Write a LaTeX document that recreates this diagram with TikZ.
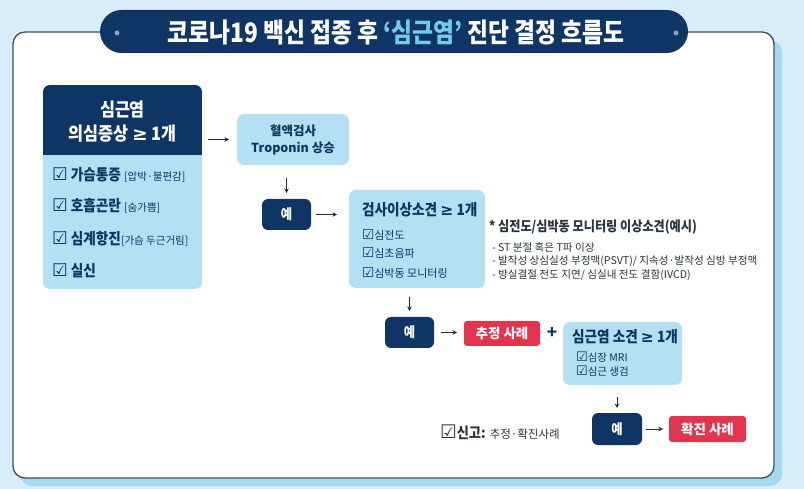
\documentclass[tikz,border=0pt]{standalone}
\usepackage{fontspec}
\setmainfont{Noto Sans CJK KR}
\newfontfamily\symf{DejaVu Sans}
\newfontfamily\titlef{Noto Sans CJK KR}[FakeStretch=0.85]
\newfontfamily\condf{Noto Sans CJK KR}[FakeStretch=0.88]
\usetikzlibrary{arrows.meta}
\definecolor{bgc}{HTML}{D7EDF8}
\definecolor{shadowc}{HTML}{A3D9F3}
\definecolor{panelc}{HTML}{3F4C5C}
\definecolor{navy}{HTML}{0E3563}
\definecolor{lightb}{HTML}{B5E0F4}
\definecolor{redc}{HTML}{E2344F}
\definecolor{accent}{HTML}{74CAEE}
\definecolor{dotc}{HTML}{8FA3B8}
\definecolor{arrowc}{HTML}{2B2B2B}
\definecolor{notec}{HTML}{2A3340}
\newcommand{\chkbx}{\scalebox{1.25}{\symf ☑}}
\newcommand{\gesym}{{\symf ≥}}
\tikzset{
  lbox/.style={fill=lightb, rounded corners=7pt, draw=none},
  nbox/.style={fill=navy, rounded corners=6pt, text=white, font=\condf\bfseries\fontsize{14}{15}\selectfont},
  rbox/.style={fill=redc, rounded corners=3pt, text=white, font=\bfseries\fontsize{13.5}{15}\selectfont},
  arr/.style={-{Stealth[length=4.5pt,width=4.5pt]}, line width=1pt, draw=arrowc},
  itemtxt/.style={anchor=west, text=navy},
  notetxt/.style={anchor=west, text=notec, font=\fontsize{10.6}{12}\selectfont},
}
\begin{document}
\begin{tikzpicture}[x=1pt,y=-1pt, every node/.style={inner sep=0pt, outer sep=0pt}]
% background and frame
\fill[bgc] (0,0) rectangle (804,489);
\fill[shadowc, rounded corners=12pt] (20,40) rectangle (782,486);
\filldraw[fill=white, draw=panelc, line width=1.3pt, rounded corners=12pt] (13,32) rectangle (774,478);
% title pill
\node[fill=navy, rounded corners=21.5pt, minimum width=588, minimum height=43] (title) at (394,31.5) {};
\node[text=white, font=\titlef\bfseries\fontsize{26.8}{30}\selectfont] (titletext) at (396,32)
  {코로나19 백신 접종 후 {\color{accent}‘심근염’} 진단 결정 흐름도};
\fill[dotc] (117,33) circle (2.5);
\fill[dotc] (676,33) circle (2.5);

% left symptom box
\node[lbox, minimum width=159, minimum height=204] (symp) at (122.5,187) {};
\begin{scope}
  \clip[rounded corners=7pt] (43,85) rectangle (202,289);
  \fill[navy] (43,85) rectangle (202,155);
\end{scope}
\node[text=white, align=center, font=\condf\bfseries\fontsize{18.5}{24}\selectfont] (symphead) at (122.5,122)
  {심근염\\의심증상 \gesym\ 1개};
\node[itemtxt, font=\fontsize{14}{15}\selectfont] (s1) at (52,175)
  {\chkbx\ {\condf\bfseries\fontsize{15.5}{16}\selectfont 가슴통증} {\fontsize{10.5}{11}\selectfont [압박·불편감]}};
\node[itemtxt, font=\fontsize{14}{15}\selectfont] (s2) at (52,206)
  {\chkbx\ {\condf\bfseries\fontsize{15.5}{16}\selectfont 호흡곤란} {\fontsize{10.5}{11}\selectfont [숨가쁨]}};
\node[itemtxt, font=\fontsize{14}{15}\selectfont] (s3) at (52,239)
  {\chkbx\ {\condf\bfseries\fontsize{15.5}{16}\selectfont 심계항진}{\fontsize{10.5}{11}\selectfont [가슴 두근거림]}};
\node[itemtxt, font=\fontsize{14}{15}\selectfont] (s4) at (52,271)
  {\chkbx\ {\condf\bfseries\fontsize{15.5}{16}\selectfont 실신}};

% troponin box
\node[lbox, minimum width=112, minimum height=51, text=navy, align=center,
      font=\bfseries\fontsize{12.5}{17}\selectfont] (trop) at (293,139.5)
  {혈액검사\\Troponin 상승};

% yes 1
\node[nbox, minimum width=49, minimum height=31] (yes1) at (286.5,214.5) {예};

% test box
\node[lbox, minimum width=136, minimum height=98] (test) at (417,239) {};
\node[itemtxt, font=\condf\bfseries\fontsize{15.5}{17}\selectfont] (testhead) at (362,210) {검사이상소견 \gesym\ 1개};
\node[itemtxt, font=\fontsize{11}{13}\selectfont] (t1) at (362,235) {\chkbx 심전도};
\node[itemtxt, font=\fontsize{11}{13}\selectfont] (t2) at (362,253) {\chkbx 심초음파};
\node[itemtxt, font=\fontsize{11}{13}\selectfont] (t3) at (362,273) {\chkbx 심박동 모니터링};

% note
\node[anchor=west, text=notec, font=\condf\bfseries\fontsize{13.8}{15}\selectfont] (note) at (489,227)
  {* 심전도/심박동 모니터링 이상소견(예시)};
\node[notetxt] (n1) at (492,247) {- ST 분절 혹은 T파 이상};
\node[notetxt] (n2) at (492,261) {- 발작성 상심실성 부정맥(PSVT)/ 지속성·발작성 심방 부정맥};
\node[notetxt] (n3) at (492,275) {- 방실결절 전도 지연/ 심실내 전도 결함(IVCD)};

% yes 2, estimated case, plus, conf box
\node[nbox, minimum width=49, minimum height=31] (yes2) at (409.5,332.5) {예};
\node[rbox, minimum width=76, minimum height=25] (est) at (502,333.5) {추정 사례};
\node[text=navy, font=\bfseries\fontsize{17}{18}\selectfont] (plus) at (552,333) {+};
\node[lbox, minimum width=119, minimum height=63] (conf) at (622.5,353.5) {};
\node[itemtxt, font=\condf\bfseries\fontsize{15.5}{17}\selectfont] (confhead) at (572,337) {심근염 소견 \gesym\ 1개};
\node[itemtxt, font=\fontsize{10.5}{12}\selectfont] (c1) at (576,357) {\chkbx 심장 MRI};
\node[itemtxt, font=\fontsize{10.5}{12}\selectfont] (c2) at (576,371) {\chkbx 심근 생검};

% yes 3, confirmed case, report
\node[nbox, minimum width=50, minimum height=32] (yes3) at (617,429) {예};
\node[rbox, minimum width=77, minimum height=26] (fin) at (707.5,429) {확진 사례};
\node[anchor=west, text=notec, font=\condf\bfseries\fontsize{15}{16}\selectfont] (report) at (440,432)
  {\chkbx 신고: {\normalfont\mdseries\fontsize{11.5}{12}\selectfont 추정·확진사례}};

% connectors
\draw[arr, shorten <=6pt, shorten >=8pt] (symp.east |- trop.west) -- (trop.west);
\draw[arr, shorten <=13pt, shorten >=6pt] (yes1.north |- trop.south) -- (yes1.north);
\draw[arr, shorten <=5pt, shorten >=12pt] (yes1.east) -- (test.west |- yes1.east);
\draw[arr, shorten <=9pt, shorten >=6pt] (yes2.north |- test.south) -- (yes2.north);
\draw[arr, shorten <=7pt, shorten >=7pt] (yes2.east) -- (est.west |- yes2.east);
\draw[arr, shorten <=12pt, shorten >=5pt] (yes3.north |- conf.south) -- (yes3.north);
\draw[arr, shorten <=4pt, shorten >=6pt] (yes3.east) -- (fin.west);
\end{tikzpicture}
\end{document}
